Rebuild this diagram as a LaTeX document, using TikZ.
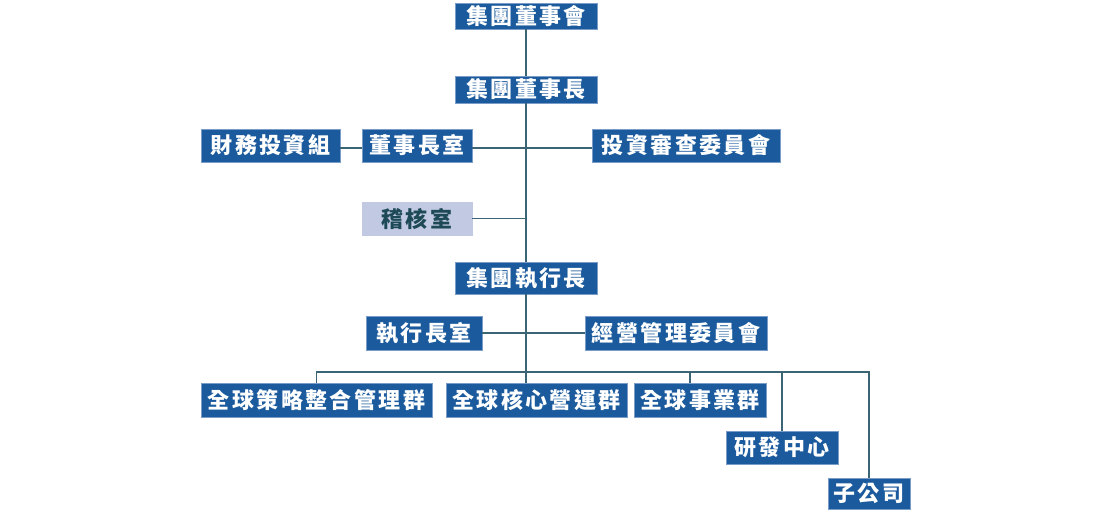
\documentclass[tikz,border=0pt]{standalone}
\usepackage{fontspec}
\newfontfamily\cjkfont[LetterSpace=11]{Noto Sans CJK TC}
\definecolor{unitblue}{HTML}{1B5A9C}
\definecolor{unitedge}{HTML}{7A9CC8}
\definecolor{auditfill}{HTML}{C2C9E3}
\definecolor{audittext}{HTML}{1D4A55}
\definecolor{linkcol}{HTML}{3B6575}
\tikzset{
  unit/.style={fill=unitblue, draw=unitedge, line width=0.6pt, text=white,
    font=\cjkfont\bfseries\fontsize{22pt}{22pt}\selectfont,
    minimum height=33pt, inner sep=0pt},
  auditbox/.style={unit, fill=auditfill, draw=auditfill, text=audittext},
  link/.style={draw=linkcol, line width=1.4pt}
}
\begin{document}
\begin{tikzpicture}[x=1pt,y=-1pt]
        \useasboundingbox (0,0) rectangle (1110,509);
        % board level
        \node[unit, minimum width=142pt, minimum height=26pt] (board) at (526,16) {集團董事會};
        \node[unit, minimum width=142pt, minimum height=27pt] (chair) at (526,89.5) {集團董事長};
        \node[unit, minimum width=139pt] (finInv) at (270.5,145.5) {財務投資組};
        \node[unit, minimum width=110pt] (chairOff) at (417,145.5) {董事長室};
        \node[unit, minimum width=188pt] (invRev) at (686,145.5) {投資審查委員會};
        \node[auditbox, minimum width=110pt] (audit) at (417,218.5) {稽核室};
        % executive level
        \node[unit, minimum width=142pt, minimum height=32pt] (ceo) at (526,278) {集團執行長};
        \node[unit, minimum width=116pt, minimum height=34pt] (ceoOff) at (424,333) {執行長室};
        \node[unit, minimum width=182pt, minimum height=34pt] (mgmt) at (676,333) {經營管理委員會};
        % groups
        \node[unit, minimum width=231pt, minimum height=34pt] (strat) at (316.5,400) {全球策略整合管理群};
        \node[unit, minimum width=181pt, minimum height=34pt] (core) at (536.5,400) {全球核心營運群};
        \node[unit, minimum width=132pt, minimum height=34pt] (biz) at (700,400) {全球事業群};
        \node[unit, minimum width=112pt] (rd) at (782,447.5) {研發中心};
        \node[unit, minimum width=82pt, minimum height=31pt] (sub) at (869,493.5) {子公司};
        \coordinate (bus) at (526,372);
        \draw[link] (board) -- (chair);
        \draw[link] (chair) -- (ceo);
        \draw[link] ([yshift=-2.5pt]finInv.east) -- ([yshift=-2.5pt]chairOff.west);
        \draw[link] ([yshift=-2.5pt]chairOff.east) -- ([yshift=-2.5pt]invRev.west);
        \draw[link] (audit.east) -- (audit.east -| ceo);
        \draw[link] (ceo) -- (core.north -| ceo);
        \draw[link] (ceoOff) -- (mgmt);
        \draw[link] (strat.north) |- (bus) -| (sub.north);
        \draw[link] ([xshift=-10pt]biz.north) |- (bus);
        \draw[link] (bus -| rd.north) -- (rd.north);
\end{tikzpicture}
\end{document}
